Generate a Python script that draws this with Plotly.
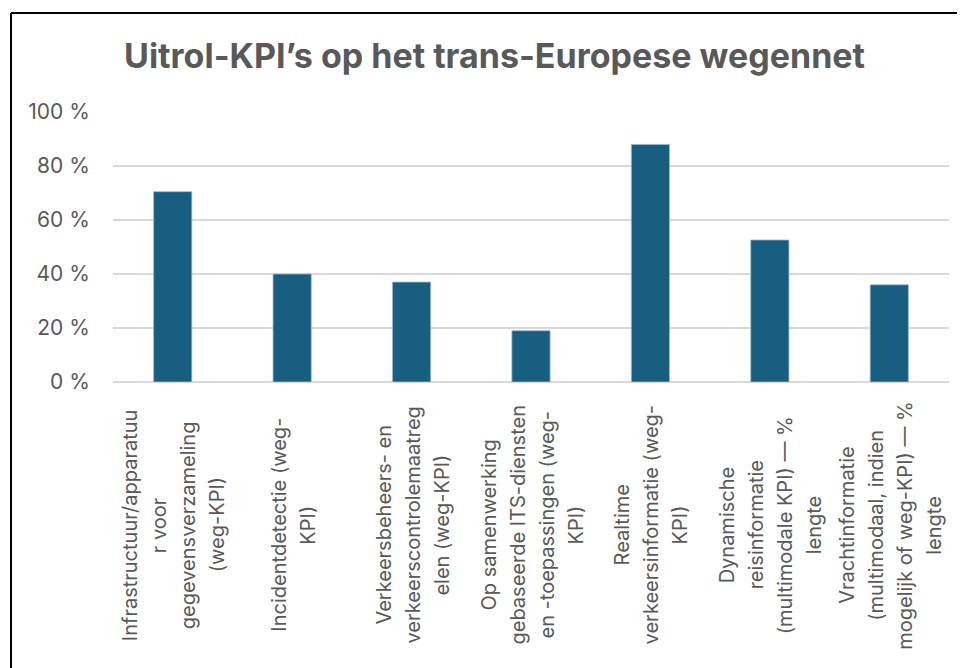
import plotly.graph_objects as go

title_text = "Uitrol-KPI’s op het trans-Europese wegennet"

categories = [
    "Infrastructuur/apparatuu<br>r voor<br>gegevensverzameling<br>(weg-KPI)",
    "Incidentdetectie (weg-<br>KPI)",
    "Verkeersbeheers- en<br>verkeerscontrolemaatreg<br>elen (weg-KPI)",
    "Op samenwerking<br>gebaseerde ITS-diensten<br>en -toepassingen (weg-<br>KPI)",
    "Realtime<br>verkeersinformatie (weg-<br>KPI)",
    "Dynamische<br>reisinformatie<br>(multimodale KPI) — %<br>lengte",
    "Vrachtinformatie<br>(multimodaal, indien<br>mogelijk of weg-KPI) — %<br>lengte",
]
values = [70.5, 40.0, 37.0, 19.0, 88.0, 52.6, 36.0]

y_ticks = [0, 20, 40, 60, 80, 100]
y_ticklabels = ["0 %", "20 %", "40 %", "60 %", "80 %", "100 %"]

BAR = "#175E80"
TXT = "#595959"
GRID = "#D9D9D9"
FONT = "Inter, Liberation Sans, Arial, sans-serif"

# the page places the figure 8px in from the top-left corner
OFF = 8
W, H = 965, 668
ML, MT = 113 - OFF, 112 - OFF
pw, ph = 836, 270
MR = W - ML - pw
MB = H - MT - ph


def px_x(x):
    return (x - OFF - ML) / pw


def px_y(y):
    return (MT + ph - (y - OFF)) / ph


fig = go.Figure()
fig.add_trace(go.Bar(
    x=list(range(len(categories))),
    y=values,
    marker=dict(color=BAR, line=dict(color="#9DBCCD", width=0.8)),
    hoverinfo="y",
))

annotations = []
line_gap = 29
for i, lab in enumerate(categories):
    lines = lab.split("<br>")
    n = len(lines)
    for j, ln in enumerate(lines):
        annotations.append(dict(
            x=i, xref="x", y=px_y(525), yref="paper",
            text=ln, showarrow=False, textangle=-90,
            xanchor="center", yanchor="middle",
            xshift=(j - (n - 1) / 2) * line_gap + 1,
            font=dict(family=FONT, size=20, color=TXT),
        ))

annotations.append(dict(
    x=px_x(494), xref="paper", y=px_y(56), yref="paper",
    text="<b>" + title_text + "</b>", showarrow=False,
    xanchor="center", yanchor="middle",
    font=dict(family=FONT, size=34, color=TXT),
))

shapes = [
    dict(type="line", xref="paper", yref="paper",
         x0=px_x(11), x1=px_x(11), y0=px_y(13), y1=px_y(H + 20),
         line=dict(color="black", width=2)),
    dict(type="line", xref="paper", yref="paper",
         x0=px_x(11), x1=px_x(W + 20), y0=px_y(13), y1=px_y(13),
         line=dict(color="black", width=2)),
]

fig.update_layout(
    width=W, height=H,
    margin=dict(l=ML, r=MR, t=MT, b=MB, pad=0),
    paper_bgcolor="white", plot_bgcolor="white",
    bargap=0.68,
    showlegend=False,
    annotations=annotations,
    shapes=shapes,
    font=dict(family=FONT, color=TXT),
)
fig.update_xaxes(
    range=[-0.5, len(categories) - 0.5],
    showticklabels=False, showgrid=False, zeroline=False,
    showline=False, ticks="",
)
fig.update_yaxes(
    range=[0, 100], tickvals=y_ticks, ticktext=y_ticklabels,
    showgrid=True, gridcolor=GRID, gridwidth=1.5,
    zeroline=True, zerolinecolor=GRID, zerolinewidth=1.5,
    showline=False, ticks="outside", ticklen=18, tickcolor="rgba(0,0,0,0)",
    tickfont=dict(family=FONT, size=21, color=TXT),
)

fig.write_html("out.html")
